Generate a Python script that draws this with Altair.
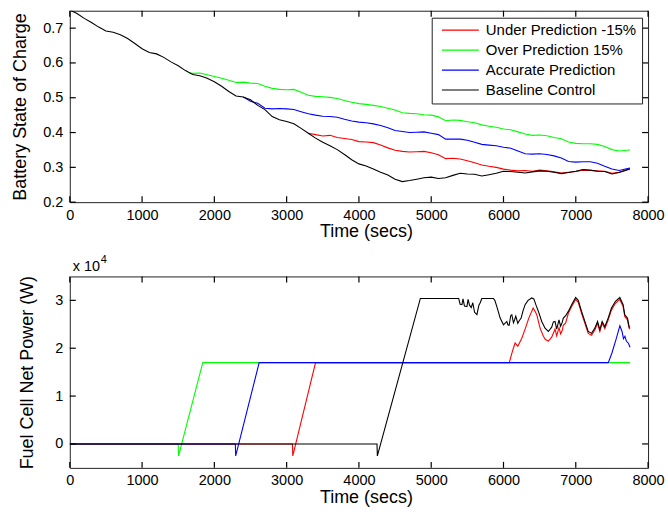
import altair as alt
import pandas as pd

FONT = "Liberation Sans"

# ---------------- Battery state of charge (top panel) ----------------
base_soc_t = [0, 100, 200, 300, 400, 500, 600, 700, 800, 900, 1000, 1100, 1200, 1300, 1400,
              1500, 1600, 1700, 1800, 1900, 2000, 2100, 2200, 2300, 2400, 2500, 2600, 2700,
              2800, 2900, 3000, 3100, 3200, 3300, 3400, 3500, 3600, 3700, 3800, 3900, 4000,
              4100, 4200, 4300, 4400, 4500, 4600, 4700, 4800, 4900, 5000, 5100, 5200, 5300,
              5400, 5500, 5600, 5700, 5800, 5900, 6000, 6100, 6200, 6300, 6400, 6500, 6600,
              6700, 6800, 6900, 7000, 7100, 7200, 7300, 7400, 7500, 7600, 7700, 7750]
base_soc_v = [0.752, 0.742, 0.728, 0.716, 0.703, 0.692, 0.688, 0.681, 0.670, 0.656, 0.641,
              0.630, 0.626, 0.616, 0.603, 0.592, 0.578, 0.567, 0.563, 0.556, 0.546, 0.533,
              0.518, 0.505, 0.502, 0.494, 0.478, 0.466, 0.446, 0.437, 0.432, 0.425, 0.412,
              0.398, 0.384, 0.372, 0.362, 0.351, 0.337, 0.322, 0.310, 0.304, 0.295, 0.286,
              0.278, 0.266, 0.259, 0.262, 0.266, 0.270, 0.272, 0.268, 0.270, 0.277, 0.283,
              0.281, 0.280, 0.275, 0.279, 0.283, 0.289, 0.288, 0.286, 0.284, 0.287, 0.290,
              0.289, 0.286, 0.282, 0.285, 0.289, 0.294, 0.292, 0.289, 0.288, 0.281, 0.285,
              0.292, 0.295]

over_soc_t = [1650, 1700, 1800, 1900, 2000, 2100, 2200, 2300, 2400, 2500, 2600, 2700, 2800,
              2900, 3000, 3100, 3200, 3300, 3400, 3500, 3600, 3700, 3800, 3900, 4000, 4100,
              4200, 4300, 4400, 4500, 4600, 4700, 4800, 4900, 5000, 5100, 5200, 5300, 5400,
              5500, 5600, 5700, 5800, 5900, 6000, 6100, 6200, 6300, 6400, 6500, 6600, 6700,
              6800, 6900, 7000, 7100, 7200, 7300, 7400, 7500, 7600, 7700, 7750]
over_soc_v = [0.572, 0.570, 0.571, 0.566, 0.561, 0.556, 0.550, 0.544, 0.545, 0.542, 0.541,
              0.533, 0.527, 0.524, 0.523, 0.524, 0.516, 0.507, 0.504, 0.503, 0.501, 0.498,
              0.492, 0.487, 0.483, 0.481, 0.478, 0.475, 0.470, 0.465, 0.457, 0.455, 0.454,
              0.451, 0.450, 0.445, 0.434, 0.436, 0.435, 0.431, 0.428, 0.422, 0.418, 0.415,
              0.410, 0.408, 0.402, 0.396, 0.392, 0.393, 0.391, 0.386, 0.382, 0.373, 0.369,
              0.368, 0.368, 0.366, 0.360, 0.351, 0.347, 0.349, 0.350]

acc_soc_t = [2400, 2500, 2600, 2700, 2800, 2900, 3000, 3100, 3200, 3300, 3400, 3500, 3600,
             3700, 3800, 3900, 4000, 4100, 4200, 4300, 4400, 4500, 4600, 4700, 4800, 4900,
             5000, 5100, 5200, 5300, 5400, 5500, 5600, 5700, 5800, 5900, 6000, 6100, 6200,
             6300, 6400, 6500, 6600, 6700, 6800, 6900, 7000, 7100, 7200, 7300, 7400, 7500,
             7600, 7700, 7750]
acc_soc_v = [0.502, 0.490, 0.484, 0.470, 0.468, 0.469, 0.468, 0.466, 0.460, 0.454, 0.450,
             0.447, 0.446, 0.444, 0.438, 0.433, 0.430, 0.428, 0.425, 0.420, 0.414, 0.406,
             0.403, 0.400, 0.401, 0.402, 0.398, 0.394, 0.381, 0.381, 0.381, 0.378, 0.372,
             0.366, 0.364, 0.362, 0.358, 0.355, 0.347, 0.339, 0.338, 0.339, 0.337, 0.333,
             0.327, 0.317, 0.315, 0.316, 0.316, 0.312, 0.303, 0.295, 0.291, 0.296, 0.298]

under_soc_t = [3300, 3400, 3500, 3600, 3700, 3800, 3900, 4000, 4100, 4200, 4300, 4400, 4500,
               4600, 4700, 4800, 4900, 5000, 5100, 5200, 5300, 5400, 5500, 5600, 5700, 5800,
               5900, 6000, 6100, 6200, 6300, 6400, 6500, 6600, 6700, 6800, 6900, 7000, 7100,
               7200, 7300, 7400, 7500, 7600, 7700, 7750]
under_soc_v = [0.398, 0.394, 0.390, 0.392, 0.386, 0.383, 0.380, 0.374, 0.373, 0.371, 0.364,
               0.356, 0.349, 0.346, 0.344, 0.345, 0.346, 0.342, 0.336, 0.325, 0.326, 0.324,
               0.319, 0.313, 0.307, 0.303, 0.300, 0.295, 0.292, 0.290, 0.291, 0.289, 0.292,
               0.290, 0.287, 0.284, 0.286, 0.288, 0.292, 0.291, 0.290, 0.289, 0.283, 0.286,
               0.293, 0.296]

# ---------------- Fuel cell net power (bottom panel, W) ----------------
over_pw_t = [0, 1500, 1505, 1840, 7750]
over_pw_v = [0, 0, -2500, 17000, 17000]

acc_pw_t = [0, 2290, 2295, 2620, 7450, 7500, 7560, 7610, 7640, 7660, 7680, 7700, 7730, 7750]
acc_pw_v = [0, 0, -2500, 17000, 17000, 19000, 22000, 24700, 23500, 22000, 22500, 21500,
            21000, 20200]

under_pw_t = [0, 3080, 3085, 3400, 6080, 6124, 6161, 6198, 6253, 6299, 6350, 6410, 6440,
              6460, 6506, 6552, 6580, 6621, 6667, 6713, 6736, 6768, 6790, 6810, 6828, 6860,
              6897, 6943, 6998, 7034, 7080, 7126, 7172, 7218, 7264, 7301, 7333, 7365, 7402,
              7448, 7494, 7549, 7609, 7655, 7678, 7715, 7738, 7750]
under_pw_v = [0, 0, -2500, 17000, 17000, 19400, 21100, 20400, 22100, 24000, 26300, 28400,
              27600, 27000, 24200, 22500, 21800, 21500, 22300, 24000, 22600, 24300, 23000,
              23600, 24800, 25300, 27300, 28700, 30200, 29600, 27300, 25200, 23100, 22700,
              23800, 25200, 23500, 25200, 24100, 25900, 28000, 29400, 30200, 28700, 26600,
              25900, 24200, 24000]

base_pw_t = [0, 4250, 4255, 4850, 5380, 5400, 5425, 5440, 5460, 5494, 5510, 5530, 5554, 5575,
             5600, 5632, 5660, 5678, 5700, 5860, 5880, 5908, 5954, 6000, 6020, 6046, 6060,
             6078, 6100, 6115, 6138, 6155, 6170, 6198, 6220, 6244, 6270, 6299, 6340, 6391,
             6420, 6450, 6483, 6529, 6575, 6621, 6667, 6690, 6713, 6736, 6768, 6790, 6810,
             6828, 6860, 6897, 6943, 6998, 7034, 7080, 7126, 7172, 7218, 7264, 7301, 7333,
             7365, 7402, 7448, 7494, 7549, 7609, 7655, 7678, 7715, 7738, 7750]
base_pw_v = [0, 0, -2500, 30400, 30400, 29200, 29100, 30300, 28800, 28700, 30200, 29000,
             28500, 29500, 27500, 27000, 29000, 29500, 30400, 30400, 30000, 28700, 26300,
             24900, 25200, 25600, 24900, 24800, 26800, 27000, 25300, 26000, 26700, 25200,
             25800, 26300, 27800, 29100, 30000, 30500, 30300, 29000, 27700, 25600, 24200,
             23500, 24400, 25500, 25600, 24000, 25900, 24600, 25300, 26300, 26800, 27700,
             29100, 30600, 30000, 27700, 25600, 23500, 23100, 24200, 25600, 23900, 25600,
             24500, 26300, 28400, 29800, 30600, 29100, 27000, 26300, 24500, 24300]

series_names = ["Under Prediction -15%", "Over Prediction 15%", "Accurate Prediction",
                "Baseline Control"]
series_colors = ["#ff0000", "#00ff00", "#0000ff", "#000000"]
draw_order = ["Over Prediction 15%", "Under Prediction -15%", "Accurate Prediction",
              "Baseline Control"]

x_ticks = [0, 1000, 2000, 3000, 4000, 5000, 6000, 7000, 8000]
soc_ticks = [0.2, 0.3, 0.4, 0.5, 0.6, 0.7]
pw_ticks = [0, 10000, 20000, 30000]
pw_multiplier = ["x 10", "4"]


def frame(t, v, name):
    return pd.DataFrame({"t": t, "v": v, "series": name})


soc_df = pd.concat([
    frame(under_soc_t, under_soc_v, series_names[0]),
    frame(over_soc_t, over_soc_v, series_names[1]),
    frame(acc_soc_t, acc_soc_v, series_names[2]),
    frame(base_soc_t, base_soc_v, series_names[3]),
], ignore_index=True)
pw_df = pd.concat([
    frame(under_pw_t, under_pw_v, series_names[0]),
    frame(over_pw_t, over_pw_v, series_names[1]),
    frame(acc_pw_t, acc_pw_v, series_names[2]),
    frame(base_pw_t, base_pw_v, series_names[3]),
], ignore_index=True)

W, H = 580, 192
TICK = 6

color_scale = alt.Scale(domain=series_names, range=series_colors)

legend = alt.Legend(
    title=None, orient="none", legendX=363, legendY=7,
    symbolType="M-3.7,0H3.7", symbolSize=100, symbolStrokeWidth=1.2,
    symbolOffset=16.25, labelOffset=18,
    labelFont=FONT, labelFontSize=15, labelColor="black", labelLimit=300,
    padding=5, rowPadding=4, strokeColor="#222", fillColor="white",
)


def axis_common(**kw):
    return dict(grid=False, domain=False, tickSize=0, tickColor="transparent",
                labelFont=FONT, labelFontSize=14.5, labelColor="black",
                titleFont=FONT, titleFontSize=18, titleFontWeight="normal",
                titleColor="black", **kw)


x_enc = alt.X("t:Q", scale=alt.Scale(domain=[0, 8000], nice=False),
              axis=alt.Axis(values=x_ticks, format="d", labelFlush=False,
                            title="Time (secs)", labelPadding=6, titleX=297,
                            titlePadding=1, **axis_common()))


def panel(df, y_enc, yticks, show_legend):
    layers = []
    for name in draw_order:
        layers.append(
            alt.Chart(df).transform_filter(alt.datum.series == name)
            .mark_line(strokeWidth=1.1, clip=True)
            .encode(x=x_enc, y=y_enc,
                    color=alt.Color("series:N", scale=color_scale,
                                    legend=legend if show_legend else None))
        )
    xt = pd.DataFrame({"t": x_ticks})
    yt = pd.DataFrame({"v": yticks})
    rule = dict(color="#000", strokeWidth=1.2)
    layers += [
        alt.Chart(xt).mark_rule(**rule).encode(x=x_enc, y=alt.value(H), y2=alt.value(H - TICK)),
        alt.Chart(xt).mark_rule(**rule).encode(x=x_enc, y=alt.value(0), y2=alt.value(TICK)),
        alt.Chart(yt).mark_rule(**rule).encode(y=y_enc, x=alt.value(0), x2=alt.value(TICK)),
        alt.Chart(yt).mark_rule(**rule).encode(y=y_enc, x=alt.value(W - TICK), x2=alt.value(W)),
    ]
    return layers


soc_y = alt.Y("v:Q", scale=alt.Scale(domain=[0.2, 0.75], nice=False, zero=False),
              axis=alt.Axis(values=soc_ticks, format=".1f", title="Battery State of Charge",
                            labelPadding=7, titlePadding=13, **axis_common()))
pw_y = alt.Y("v:Q", scale=alt.Scale(domain=[-5000, 35000], nice=False, zero=False),
             axis=alt.Axis(values=pw_ticks, labelExpr="datum.value / 10000",
                           title="Fuel Cell Net Power (W)",
                           labelPadding=7, titlePadding=18, **axis_common()))

top = alt.layer(*panel(soc_df, soc_y, soc_ticks, True)).properties(width=W, height=H)

mult_df = pd.DataFrame({"base": [pw_multiplier[0]], "exp": [pw_multiplier[1]]})
mult_base = alt.Chart(mult_df).mark_text(
    align="left", baseline="alphabetic", font=FONT, fontSize=14.5, color="black"
).encode(text="base:N", x=alt.value(3), y=alt.value(-5))
mult_exp = alt.Chart(mult_df).mark_text(
    align="left", baseline="alphabetic", font=FONT, fontSize=11, color="black"
).encode(text="exp:N", x=alt.value(31), y=alt.value(-13))

bottom = alt.layer(*panel(pw_df, pw_y, pw_ticks, False), mult_base, mult_exp).properties(
    width=W, height=H)

chart = (
    alt.vconcat(top, bottom, spacing=12.5)
    .resolve_scale(color="independent", y="independent")
    .resolve_legend(color="independent")
    .properties(padding={"left": 11, "top": 8, "right": 3, "bottom": 3})
    .configure_view(stroke="#222", strokeWidth=1)
)

chart.save("out.html", embed_options={"renderer": "svg", "actions": False})
